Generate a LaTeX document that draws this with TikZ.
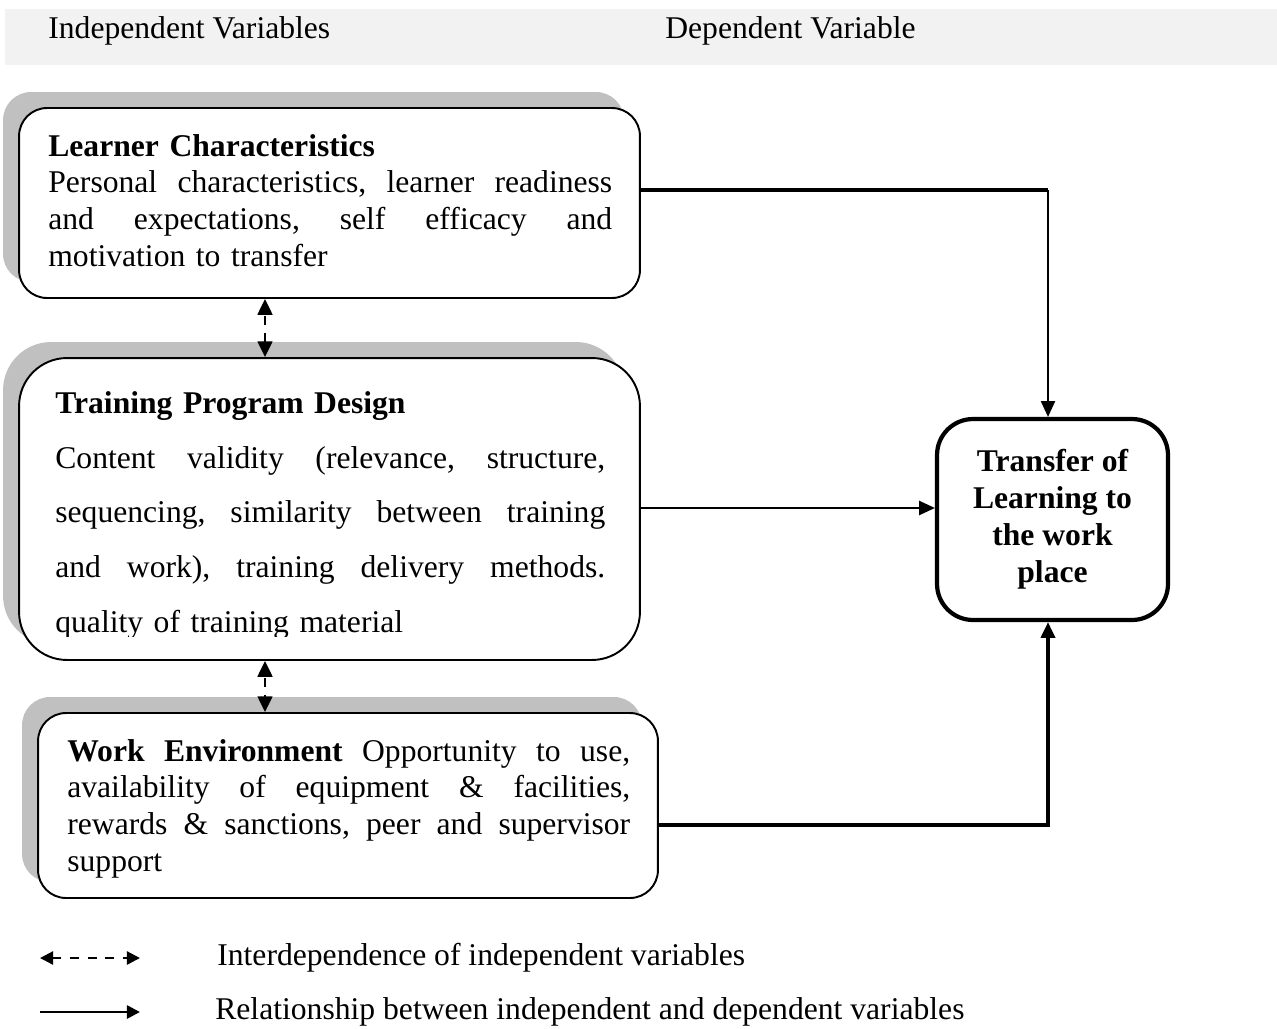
\documentclass[tikz,border=0pt]{standalone}
\usepackage{fontspec}
\setmainfont{Liberation Serif}
\usetikzlibrary{arrows.meta,shadows}
\definecolor{bandgray}{HTML}{F2F2F2}
\definecolor{shadowgray}{HTML}{C0C0C0}
\newcommand{\jline}[2]{\leavevmode\hbox to #1{#2}}
\begin{document}
\begin{tikzpicture}[x=0.02cm,y=-0.02cm,
  txt/.style={font=\fontsize{18}{21}\selectfont, inner sep=0pt, anchor=base west},
  para/.style={txt, text width=#1, align=left},
  varbox/.style={draw, line width=1.1pt, fill=white, rounded corners=#1, inner sep=0pt,
    general shadow={fill=shadowgray, shadow xshift=-0.32cm, shadow yshift=0.32cm}},
  depbox/.style={draw, line width=2.4pt, fill=white, rounded corners=0.72cm, inner sep=0pt,
    align=center, font=\fontsize{18}{21}\selectfont\bfseries,
    minimum width=4.62cm, minimum height=4.02cm},
  tip/.style={-{Triangle[length=9pt,width=8pt]}},
  interdep/.style={{Triangle[length=9pt,width=8.5pt]}-{Triangle[length=9pt,width=8.5pt]}, line width=1.1pt, dash pattern=on 5pt off 4.5pt, dash phase=-1pt},
  legdash/.style={{Triangle[length=7.5pt,width=7.5pt]}-{Triangle[length=7.5pt,width=7.5pt]}, line width=1.3pt, dash pattern=on 5pt off 5pt},
  legsolid/.style={-{Triangle[length=7.5pt,width=7.5pt]}, line width=1.5pt}
]
\useasboundingbox (0,0) rectangle (1277,1028);

% header band
\fill[bandgray] (5,9) rectangle (1277,65);
\node[txt] (hind) at (48,38) {Independent Variables};
\node[txt] (hdep) at (665,38) {Dependent Variable};

% boxes
\node[varbox=0.56cm, minimum width=12.42cm, minimum height=3.8cm] (learner) at (329.5,203) {};
\node[varbox=0.96cm, minimum width=12.42cm, minimum height=6.04cm] (training) at (329.5,509) {};
\node[varbox=0.56cm, minimum width=12.4cm, minimum height=3.7cm] (work) at (348,805.5) {};
\node[depbox] (transfer) at (1052.5,519.5) {Transfer of\\Learning to\\the work\\place};

% texts
\node[para=11.28cm] (ltext) at (48,156) {\textbf{Learner Characteristics}\\
\jline{11.28cm}{Personal\hfill characteristics,\hfill learner\hfill readiness}\\
\jline{11.28cm}{and\hfill expectations,\hfill self\hfill efficacy\hfill and}\\
motivation to transfer};

\begin{scope}
\clip (0,0) rectangle (1277,636);
\node[para=11cm, font=\fontsize{18}{31.3}\selectfont] (ttext) at (55,413) {\textbf{Training Program Design}\\
\jline{11cm}{Content\hfill validity\hfill (relevance,\hfill structure,}\\
\jline{11cm}{sequencing,\hfill similarity\hfill between\hfill training}\\
\jline{11cm}{and\hfill work),\hfill training\hfill delivery\hfill methods.}\\
quality of training material};
\end{scope}

\node[para=11.26cm] (wtext) at (67,761) {\jline{11.26cm}{\textbf{Work}\hfill\textbf{Environment}\hfill Opportunity\hfill to\hfill use,}\\
\jline{11.26cm}{availability\hfill of\hfill equipment\hfill \&\hfill facilities,}\\
\jline{11.26cm}{rewards\hfill \&\hfill sanctions,\hfill peer\hfill and\hfill supervisor}\\
support};

% interdependence arrows
\coordinate (dx) at (265,0);
\draw[interdep] (dx |- learner.south) -- (dx |- training.north);
\draw[interdep] (dx |- training.south) -- (dx |- work.north);

% relationship arrows
\coordinate (k1) at (1048,190);
\coordinate (k2) at (1048,825);
\coordinate (k3) at (0,508);
\draw[line width=2pt] (k1 -| learner.east) -- (k1);
\draw[line width=1.1pt, tip] (k1) -- (k1 |- transfer.north);
\draw[line width=1.2pt, tip] (k3 -| training.east) -- (k3 -| transfer.west);
\draw[line width=2pt, tip] (k2 -| work.east) -- (k2) -- (k2 |- transfer.south);

% legend
\coordinate (la) at (40,958);
\coordinate (lb) at (140,958);
\coordinate (lc) at (40,1012);
\coordinate (ld) at (140,1012);
\draw[legdash] (la) -- (lb);
\draw[legsolid] (lc) -- (ld);
\node[txt] (leg1) at (217,965) {Interdependence of independent variables};
\node[txt] (leg2) at (215,1019) {Relationship between independent and dependent variables};
\end{tikzpicture}
\end{document}
